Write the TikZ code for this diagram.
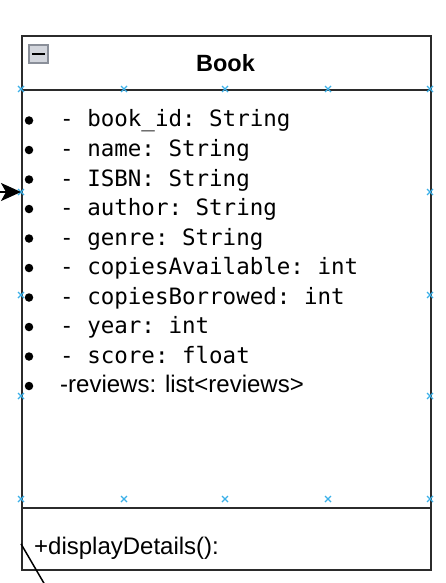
\documentclass[tikz,border=0pt]{standalone}
\usepackage{fontspec}
\setmainfont{Liberation Sans}
\setmonofont{DejaVu Sans Mono}
\usetikzlibrary{arrows.meta, positioning}
\definecolor{umlEdge}{HTML}{2B2B2B}
\definecolor{handleBlue}{HTML}{3BB0E8}
\definecolor{iconFill}{HTML}{D3D6DD}
\definecolor{iconEdge}{HTML}{8A8F99}
\tikzset{
  part/.style={rectangle, draw=umlEdge, line width=1.7pt, minimum width=409pt,
               anchor=north west, inner sep=0pt},
  attrText/.style={anchor=base west, inner sep=0pt,
                   font=\ttfamily\fontsize{22.5}{26}\selectfont},
  plainText/.style={anchor=base west, inner sep=0pt,
                    font=\fontsize{24}{28}\selectfont},
  titleText/.style={inner sep=0pt, font=\bfseries\fontsize{23.5}{26}\selectfont},
  dotMark/.style={circle, fill=black, inner sep=0pt, minimum size=8.5pt},
  handle/.style={handleBlue, line width=1.3pt},
  assocArrow/.style={-{Stealth[length=20pt, width=18pt, inset=5pt]}, black, line width=2pt},
  assocLine/.style={black, line width=1.5pt},
}

\begin{document}
\begin{tikzpicture}[x=1pt, y=-1pt]
  \useasboundingbox (0,0) rectangle (446,583);
  % class compartments
  \node[part, minimum height=54pt] (head) at (21,35) {};
  \node[part, minimum height=418pt] (attrs) at (21,89) {};
  \node[part, minimum height=62pt] (ops) at (21,507) {};

  % collapse icon and class name
  \node[rectangle, draw=iconEdge, fill=iconFill, line width=1.2pt,
        minimum width=19pt, minimum height=18pt, inner sep=0pt] (fold) at (38.5,54) {};
  \draw[black, line width=2.4pt] ([xshift=4pt]fold.west) -- ([xshift=-4pt]fold.east);
  \node[titleText, anchor=base] (title) at (225.5,72) {Book};

  % attributes
  \foreach \txt [count=\i from 0] in {- book\_id: String, - name: String,
      - ISBN: String, - author: String, - genre: String,
      - copiesAvailable: int, - copiesBorrowed: int, - year: int,
      - score: float} {
    \node[dotMark] (dot\i) at (29,120.5+29.5*\i) {};
    \node[attrText] (attr\i) at (60,127+29.5*\i) {\txt};
  }
  \node[dotMark] (dot9) at (29,120.5+29.5*9) {};
  \node[plainText] (attr9) at (60,127+29.5*9) {-reviews: list<reviews>};

  % operations
  \node[plainText] (op0) at (34,554) {+displayDetails():};

  % selection handles
  \foreach \x in {21,124,225,328,430} {
    \foreach \y in {89,499} {
      \draw[handle] (\x-3,\y-3) -- (\x+3,\y+3) (\x-3,\y+3) -- (\x+3,\y-3);
    }
  }
  \foreach \x in {21,430} {
    \foreach \y in {192,295,396} {
      \draw[handle] (\x-3,\y-3) -- (\x+3,\y+3) (\x-3,\y+3) -- (\x+3,\y-3);
    }
  }

  % connectors
  \coordinate (assocFrom) at (-2,192);
  \coordinate (linkTo) at (45,585);
  \draw[assocArrow] (assocFrom) -- (assocFrom -| attrs.west);
  \draw[assocLine] ([yshift=-5pt]ops.west) -- (linkTo);
\end{tikzpicture}
\end{document}
